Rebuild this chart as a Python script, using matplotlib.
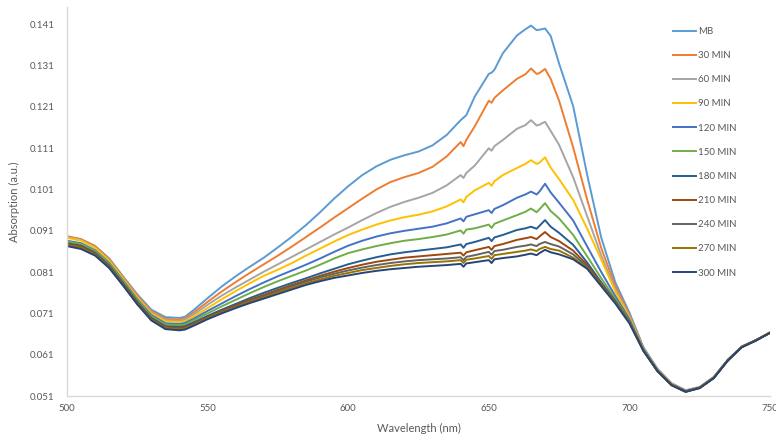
import matplotlib
matplotlib.use("Agg")
import matplotlib.pyplot as plt


# ---------------------------------------------------
# DATA
# ---------------------------------------------------
wavelength = [500, 505, 510, 515, 520, 525, 530, 535, 540, 542,
              545, 550, 555, 560, 565, 570, 575, 580, 585, 590,
              595, 600, 605, 610, 615, 620, 625, 630, 635, 640,
              641, 642, 645, 650, 651, 652, 655, 660, 663, 665,
              667, 668, 670, 672, 675, 680, 685, 690, 695, 700,
              705, 710, 715, 720, 725, 730, 735, 740, 745, 750]

mb = [0.0895, 0.0889, 0.0873, 0.0843, 0.0799, 0.0756, 0.0719, 0.0701, 0.0699, 0.0702,
      0.0718, 0.0747, 0.0775, 0.0800, 0.0823, 0.0845, 0.0870, 0.0896, 0.0924, 0.0955,
      0.0988, 0.1018, 0.1045, 0.1066, 0.1082, 0.1093, 0.1102, 0.1117, 0.1142, 0.1178,
      0.1184, 0.1190, 0.1235, 0.1290, 0.1293, 0.1300, 0.1340, 0.1383, 0.1398, 0.1407,
      0.1396, 0.1397, 0.1400, 0.1382, 0.1315, 0.1212, 0.1045, 0.0893, 0.0785, 0.0712,
      0.0628, 0.0576, 0.0541, 0.0524, 0.0532, 0.0556, 0.0598, 0.0630, 0.0645, 0.0664]

min_30 = [0.0897, 0.0890, 0.0873, 0.0842, 0.0798, 0.0754, 0.0716, 0.0697, 0.0695, 0.0698,
          0.0712, 0.0738, 0.0763, 0.0786, 0.0808, 0.0829, 0.0850, 0.0872, 0.0895, 0.0918,
          0.0942, 0.0965, 0.0988, 0.1010, 0.1028, 0.1040, 0.1050, 0.1065, 0.1090, 0.1125,
          0.1115, 0.1130, 0.1163, 0.1225, 0.1220, 0.1232, 0.1250, 0.1278, 0.1289, 0.1303,
          0.1290, 0.1292, 0.1302, 0.1278, 0.1225, 0.1112, 0.0985, 0.0868, 0.0776, 0.0707,
          0.0625, 0.0574, 0.0540, 0.0523, 0.0531, 0.0555, 0.0597, 0.0630, 0.0645, 0.0664]

min_60 = [0.0895, 0.0888, 0.0870, 0.0839, 0.0795, 0.0751, 0.0713, 0.0694, 0.0692, 0.0695,
          0.0707, 0.0731, 0.0753, 0.0773, 0.0792, 0.0811, 0.0829, 0.0847, 0.0865, 0.0883,
          0.0901, 0.0918, 0.0936, 0.0953, 0.0968, 0.0980, 0.0990, 0.1002, 0.1020, 0.1045,
          0.1038, 0.1050, 0.1068, 0.1110, 0.1104, 0.1115, 0.1130, 0.1157, 0.1166, 0.1178,
          0.1165, 0.1167, 0.1174, 0.1152, 0.1118, 0.1040, 0.0945, 0.0850, 0.0768, 0.0703,
          0.0624, 0.0573, 0.0539, 0.0523, 0.0531, 0.0555, 0.0597, 0.0629, 0.0645, 0.0664]

min_90 = [0.0893, 0.0886, 0.0869, 0.0837, 0.0793, 0.0748, 0.0710, 0.0691, 0.0689, 0.0691,
          0.0702, 0.0723, 0.0744, 0.0764, 0.0783, 0.0801, 0.0816, 0.0832, 0.0850, 0.0867,
          0.0884, 0.0900, 0.0913, 0.0925, 0.0935, 0.0943, 0.0949, 0.0957, 0.0969, 0.0986,
          0.0979, 0.0992, 0.1008, 0.1026, 0.1019, 0.1030, 0.1045, 0.1062, 0.1072, 0.1081,
          0.1072, 0.1075, 0.1088, 0.1063, 0.1035, 0.0985, 0.0915, 0.0840, 0.0763, 0.0700,
          0.0623, 0.0573, 0.0539, 0.0522, 0.0531, 0.0555, 0.0597, 0.0629, 0.0645, 0.0664]

min_120 = [0.0886, 0.0880, 0.0863, 0.0832, 0.0789, 0.0744, 0.0706, 0.0686, 0.0684, 0.0687,
           0.0697, 0.0716, 0.0734, 0.0752, 0.0769, 0.0785, 0.0800, 0.0814, 0.0828, 0.0843,
           0.0859, 0.0874, 0.0886, 0.0896, 0.0904, 0.0910, 0.0915, 0.0920, 0.0928, 0.0940,
           0.0933, 0.0944, 0.0950, 0.0960, 0.0953, 0.0963, 0.0972, 0.0990, 0.0998, 0.1005,
           0.0998, 0.1005, 0.1024, 0.1003, 0.0978, 0.0935, 0.0872, 0.0810, 0.0752, 0.0696,
           0.0622, 0.0572, 0.0538, 0.0522, 0.0530, 0.0555, 0.0597, 0.0629, 0.0645, 0.0663]

min_150 = [0.0884, 0.0878, 0.0861, 0.0830, 0.0787, 0.0742, 0.0703, 0.0683, 0.0681, 0.0683,
           0.0693, 0.0710, 0.0727, 0.0743, 0.0759, 0.0774, 0.0788, 0.0801, 0.0814, 0.0828,
           0.0843, 0.0856, 0.0865, 0.0873, 0.0880, 0.0886, 0.0890, 0.0895, 0.0901, 0.0911,
           0.0903, 0.0913, 0.0916, 0.0925, 0.0917, 0.0927, 0.0935, 0.0948, 0.0956, 0.0964,
           0.0955, 0.0962, 0.0977, 0.0958, 0.0940, 0.0900, 0.0848, 0.0795, 0.0745, 0.0692,
           0.0621, 0.0571, 0.0537, 0.0521, 0.0530, 0.0554, 0.0597, 0.0629, 0.0645, 0.0663]

min_180 = [0.0880, 0.0874, 0.0857, 0.0826, 0.0783, 0.0738, 0.0699, 0.0679, 0.0677, 0.0679,
           0.0688, 0.0704, 0.0719, 0.0733, 0.0747, 0.0760, 0.0772, 0.0784, 0.0795, 0.0807,
           0.0818, 0.0829, 0.0838, 0.0846, 0.0853, 0.0858, 0.0862, 0.0866, 0.0870, 0.0877,
           0.0869, 0.0878, 0.0883, 0.0893, 0.0885, 0.0894, 0.0900, 0.0912, 0.0916, 0.0920,
           0.0915, 0.0922, 0.0936, 0.0920, 0.0905, 0.0876, 0.0833, 0.0785, 0.0740, 0.0690,
           0.0621, 0.0571, 0.0537, 0.0521, 0.0530, 0.0554, 0.0596, 0.0629, 0.0645, 0.0663]

min_210 = [0.0878, 0.0872, 0.0855, 0.0824, 0.0781, 0.0736, 0.0697, 0.0677, 0.0674, 0.0676,
           0.0685, 0.0701, 0.0716, 0.0730, 0.0743, 0.0755, 0.0767, 0.0779, 0.0790, 0.0801,
           0.0811, 0.0820, 0.0828, 0.0835, 0.0840, 0.0845, 0.0848, 0.0851, 0.0854, 0.0857,
           0.0850, 0.0858, 0.0863, 0.0871, 0.0864, 0.0873, 0.0878, 0.0888, 0.0892, 0.0895,
           0.0890, 0.0896, 0.0907, 0.0895, 0.0885, 0.0862, 0.0827, 0.0782, 0.0738, 0.0689,
           0.0620, 0.0571, 0.0537, 0.0521, 0.0530, 0.0554, 0.0596, 0.0629, 0.0645, 0.0663]

min_240 = [0.0876, 0.0870, 0.0853, 0.0822, 0.0779, 0.0734, 0.0695, 0.0675, 0.0672, 0.0674,
           0.0683, 0.0699, 0.0714, 0.0727, 0.0740, 0.0752, 0.0764, 0.0776, 0.0787, 0.0797,
           0.0806, 0.0814, 0.0821, 0.0827, 0.0832, 0.0836, 0.0839, 0.0841, 0.0843, 0.0846,
           0.0839, 0.0847, 0.0851, 0.0859, 0.0852, 0.0861, 0.0864, 0.0871, 0.0874, 0.0877,
           0.0873, 0.0878, 0.0883, 0.0878, 0.0872, 0.0853, 0.0823, 0.0780, 0.0737, 0.0689,
           0.0620, 0.0570, 0.0537, 0.0521, 0.0530, 0.0554, 0.0596, 0.0629, 0.0645, 0.0663]

min_270 = [0.0876, 0.0869, 0.0852, 0.0821, 0.0778, 0.0733, 0.0694, 0.0674, 0.0671, 0.0673,
           0.0682, 0.0698, 0.0712, 0.0725, 0.0738, 0.0749, 0.0761, 0.0772, 0.0783, 0.0792,
           0.0801, 0.0808, 0.0815, 0.0820, 0.0825, 0.0829, 0.0832, 0.0834, 0.0836, 0.0839,
           0.0832, 0.0840, 0.0843, 0.0849, 0.0842, 0.0851, 0.0854, 0.0859, 0.0862, 0.0865,
           0.0861, 0.0866, 0.0871, 0.0866, 0.0862, 0.0845, 0.0820, 0.0778, 0.0736, 0.0688,
           0.0620, 0.0570, 0.0536, 0.0520, 0.0530, 0.0554, 0.0596, 0.0629, 0.0645, 0.0663]

min_300 = [0.0873, 0.0866, 0.0850, 0.0820, 0.0777, 0.0732, 0.0693, 0.0672, 0.0669, 0.0671,
           0.0680, 0.0696, 0.0710, 0.0723, 0.0735, 0.0746, 0.0757, 0.0768, 0.0779, 0.0788,
           0.0796, 0.0802, 0.0808, 0.0813, 0.0817, 0.0820, 0.0823, 0.0825, 0.0827, 0.0830,
           0.0823, 0.0831, 0.0834, 0.0839, 0.0832, 0.0841, 0.0844, 0.0848, 0.0852, 0.0855,
           0.0851, 0.0856, 0.0864, 0.0858, 0.0853, 0.0841, 0.0818, 0.0776, 0.0734, 0.0686,
           0.0619, 0.0570, 0.0536, 0.0520, 0.0529, 0.0553, 0.0596, 0.0628, 0.0644, 0.0663]

series_labels = ["MB", "30 MIN", "60 MIN", "90 MIN", "120 MIN", "150 MIN",
                 "180 MIN", "210 MIN", "240 MIN", "270 MIN", "300 MIN"]
series_values = [mb, min_30, min_60, min_90, min_120, min_150,
                 min_180, min_210, min_240, min_270, min_300]
series_colors = ["#5B9BD5", "#ED7D31", "#A5A5A5", "#FFC000", "#4472C4", "#70AD47",
                 "#255E91", "#9E480E", "#636363", "#997300", "#264478"]

y_ticks = [0.051, 0.061, 0.071, 0.081, 0.091, 0.101, 0.111, 0.121, 0.131, 0.141]
x_ticks = [500, 550, 600, 650, 700, 750]


# ---------------------------------------------------
# PLOT
# ---------------------------------------------------
plt.rcParams["font.family"] = ["Lato", "DejaVu Sans"]
text_color = "#595959"

fig = plt.figure(figsize=(7.76, 4.36), dpi=100)
ax = fig.add_axes([67 / 776, 40 / 436, 703 / 776, 389 / 436])

for label, values, color in zip(series_labels, series_values, series_colors):
    ax.plot(wavelength, values, color=color, linewidth=1.4, label=label)

ax.set_xlim(500, 750)
ax.set_ylim(0.051, 0.1452)
ax.set_xticks(x_ticks)
ax.set_yticks(y_ticks)
ax.set_yticklabels([f"{t:.3f}" for t in y_ticks])

ax.tick_params(axis="both", length=0, labelsize=7, labelcolor=text_color)
ax.tick_params(axis="y", pad=9)
ax.tick_params(axis="x", pad=6)

for side in ["top", "right"]:
    ax.spines[side].set_visible(False)
for side in ["left", "bottom"]:
    ax.spines[side].set_color("#D9D9D9")
    ax.spines[side].set_linewidth(1.0)

ax.set_xlabel("Wavelength (nm)", fontsize=8, color=text_color, labelpad=7)
ax.set_ylabel("Absorption (a.u.)", fontsize=8, color=text_color)
ax.yaxis.set_label_coords((20 - 67) / 703, 0.5)

leg = ax.legend(loc="upper left", bbox_to_anchor=(673 / 776, 1 - 27 / 436),
                bbox_transform=fig.transFigure, frameon=False, fontsize=7,
                handlelength=2.4, handletextpad=0.2, labelspacing=1.56,
                borderpad=0, borderaxespad=0)
for txt in leg.get_texts():
    txt.set_color(text_color)

fig.savefig("out.png", dpi=100)
plt.close(fig)
